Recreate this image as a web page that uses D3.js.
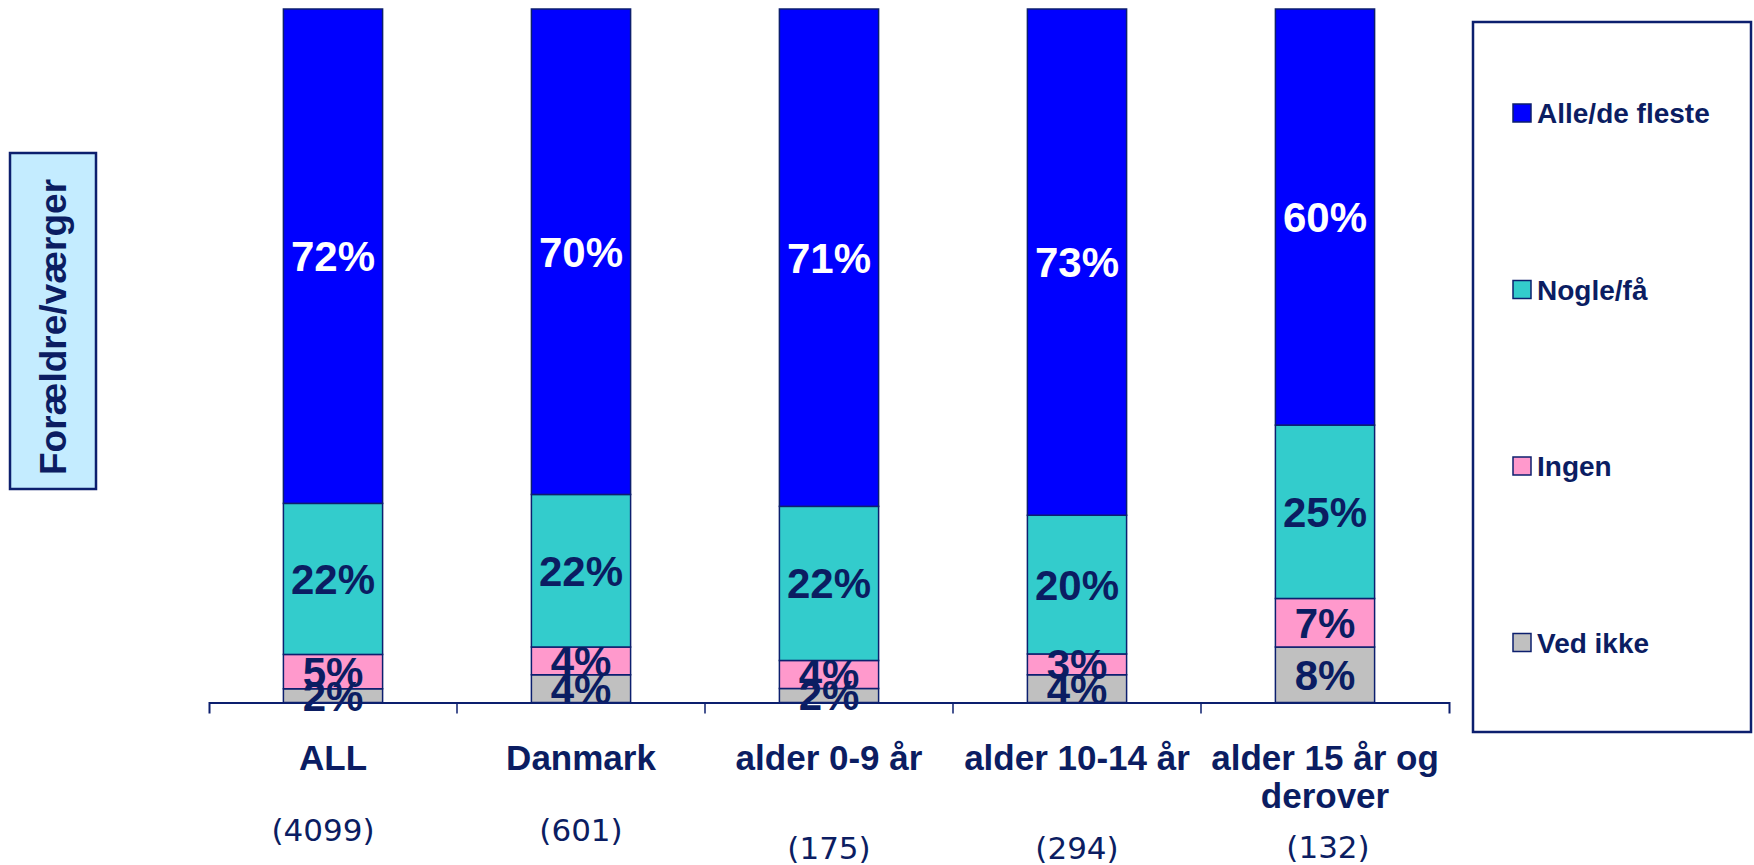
<!DOCTYPE html>
<html>
<head>
<meta charset="utf-8">
<script src="https://cdn.jsdelivr.net/npm/d3@7"></script>
<style>
  html, body { margin: 0; padding: 0; background: #ffffff; }
  svg { display: block; }
</style>
</head>
<body>
<svg id="chart" width="1754" height="865"></svg>
<script>
// Survey answers per group, in percent (100% stacked)
const categories = ["ALL", "Danmark", "alder 0-9 år", "alder 10-14 år", "alder 15 år og derover"];
const counts = ["(4099)", "(601)", "(175)", "(294)", "(132)"];
const alleDeFleste = [72, 70, 71, 73, 60];
const nogleFaa = [22, 22, 22, 20, 25];
const ingen = [5, 4, 4, 3, 7];
const vedIkke = [2, 4, 2, 4, 8];

// Series from bottom of the stack to the top
const seriesNames = ["Ved ikke", "Ingen", "Nogle/få", "Alle/de fleste"];
const seriesColors = ["#c0c0c0", "#ff99cc", "#33cccc", "#0000ff"];
const labelColors = ["#0b1d62", "#0b1d62", "#0b1d62", "#ffffff"];
const yTitle = "Forældre/værger";

// small layout nudges for the sample-size line under each group
const countDy = [0, 0, 18, 18, 17];
const countDx = [-10, 0, 0, 0, 3];

const navy = "#0b1d62";
const border = "#0c1f6e";
const boldFont = "'Liberation Sans', Arial, sans-serif";

const rows = categories.map((c, i) => ({
  category: c,
  "Ved ikke": vedIkke[i],
  "Ingen": ingen[i],
  "Nogle/få": nogleFaa[i],
  "Alle/de fleste": alleDeFleste[i]
}));

const svg = d3.select("#chart");

const x = d3.scaleBand()
  .domain(categories)
  .range([209, 1449])
  .paddingInner(0.6)
  .paddingOuter(0.3);

const y = d3.scaleLinear().domain([0, 1]).range([702.5, 9]);

const color = d3.scaleOrdinal().domain(seriesNames).range(seriesColors);
const textColor = d3.scaleOrdinal().domain(seriesNames).range(labelColors);

const stacked = d3.stack()
  .keys(seriesNames)
  .offset(d3.stackOffsetExpand)(rows);

// Stacked bars
const layers = svg.append("g")
  .selectAll("g")
  .data(stacked)
  .join("g")
  .attr("fill", d => color(d.key));

layers.selectAll("rect")
  .data(d => d)
  .join("rect")
  .attr("x", d => x(d.data.category))
  .attr("width", x.bandwidth())
  .attr("y", d => y(d[1]))
  .attr("height", d => y(d[0]) - y(d[1]))
  .attr("stroke", border)
  .attr("stroke-width", 1.5);

// Value labels centred in each segment
const labelLayers = svg.append("g")
  .selectAll("g")
  .data(stacked)
  .join("g")
  .attr("fill", d => textColor(d.key));

labelLayers.selectAll("text")
  .data(d => d.map(v => ({ v, key: d.key })))
  .join("text")
  .attr("x", d => x(d.v.data.category) + x.bandwidth() / 2)
  .attr("y", d => (y(d.v[0]) + y(d.v[1])) / 2)
  .attr("dy", "0.357em")
  .attr("text-anchor", "middle")
  .attr("font-family", boldFont)
  .attr("font-weight", "bold")
  .attr("font-size", 42)
  .text(d => d.v.data[d.key] + "%");

// Category axis
const axis = svg.append("g")
  .attr("transform", `translate(0,${y(0)})`)
  .call(d3.axisBottom(x).tickSize(0).tickSizeOuter(11).tickPadding(0));

axis.select(".domain")
  .attr("stroke", border)
  .attr("stroke-width", 2);

// tick marks sit on the group boundaries
const gap = x.step() - x.bandwidth();
const boundaries = categories.map(c => x(c) - gap / 2).slice(1);
axis.selectAll(".boundary")
  .data(boundaries)
  .join("line")
  .attr("class", "boundary")
  .attr("x1", d => d).attr("x2", d => d)
  .attr("y1", 0).attr("y2", 11)
  .attr("stroke", border)
  .attr("stroke-width", 1.5);

axis.selectAll(".tick text")
  .attr("fill", navy)
  .attr("font-family", boldFont)
  .attr("font-weight", "bold")
  .attr("font-size", 35)
  .attr("y", 67.5)
  .attr("dy", 0)
  .each(function () { wrap(d3.select(this), x.step() - 4, 38); });

function wrap(text, width, lineHeight) {
  const words = text.text().split(/\s+/);
  const yPos = text.attr("y");
  text.text(null);
  let line = [];
  let tspan = text.append("tspan").attr("x", 0).attr("y", yPos);
  let lineNo = 0;
  words.forEach(w => {
    line.push(w);
    tspan.text(line.join(" "));
    if (tspan.node().getComputedTextLength() > width && line.length > 1) {
      line.pop();
      tspan.text(line.join(" "));
      line = [w];
      lineNo++;
      tspan = text.append("tspan")
        .attr("x", 0)
        .attr("y", +yPos + lineNo * lineHeight)
        .text(w);
    }
  });
}

// Sample sizes below the category names
svg.append("g")
  .selectAll("text")
  .data(categories)
  .join("text")
  .attr("x", (c, i) => x(c) + x.bandwidth() / 2 + countDx[i])
  .attr("y", (c, i) => 841 + countDy[i])
  .attr("text-anchor", "middle")
  .attr("fill", navy)
  .attr("font-family", "'DejaVu Sans', Verdana, sans-serif")
  .attr("font-size", 31)
  .text((c, i) => counts[i]);

// Rotated y-axis title in a shaded box
const titleBox = svg.append("g");
titleBox.append("rect")
  .attr("x", 10).attr("y", 153)
  .attr("width", 86).attr("height", 336)
  .attr("fill", "#c4ecff")
  .attr("stroke", border)
  .attr("stroke-width", 2.5);
titleBox.append("text")
  .attr("transform", "translate(66,327) rotate(-90)")
  .attr("text-anchor", "middle")
  .attr("fill", navy)
  .attr("font-family", boldFont)
  .attr("font-weight", "bold")
  .attr("font-size", 37)
  .text(yTitle);

// Legend, top entry first
const legend = svg.append("g");
legend.append("rect")
  .attr("x", 1473).attr("y", 22)
  .attr("width", 278).attr("height", 710)
  .attr("fill", "#ffffff")
  .attr("stroke", border)
  .attr("stroke-width", 2.5);

const legendOrder = seriesNames.slice().reverse();
const legendY = d3.scalePoint().domain(legendOrder).range([113, 642.5]);

const items = legend.selectAll(".item")
  .data(legendOrder)
  .join("g")
  .attr("class", "item")
  .attr("transform", d => `translate(1513,${legendY(d)})`);

items.append("rect")
  .attr("x", 0).attr("y", -9)
  .attr("width", 18).attr("height", 18)
  .attr("fill", d => color(d))
  .attr("stroke", border)
  .attr("stroke-width", 1.5);

items.append("text")
  .attr("x", 24)
  .attr("y", 10)
  .attr("fill", navy)
  .attr("font-family", boldFont)
  .attr("font-weight", "bold")
  .attr("font-size", 28)
  .text(d => d);
</script>
</body>
</html>
